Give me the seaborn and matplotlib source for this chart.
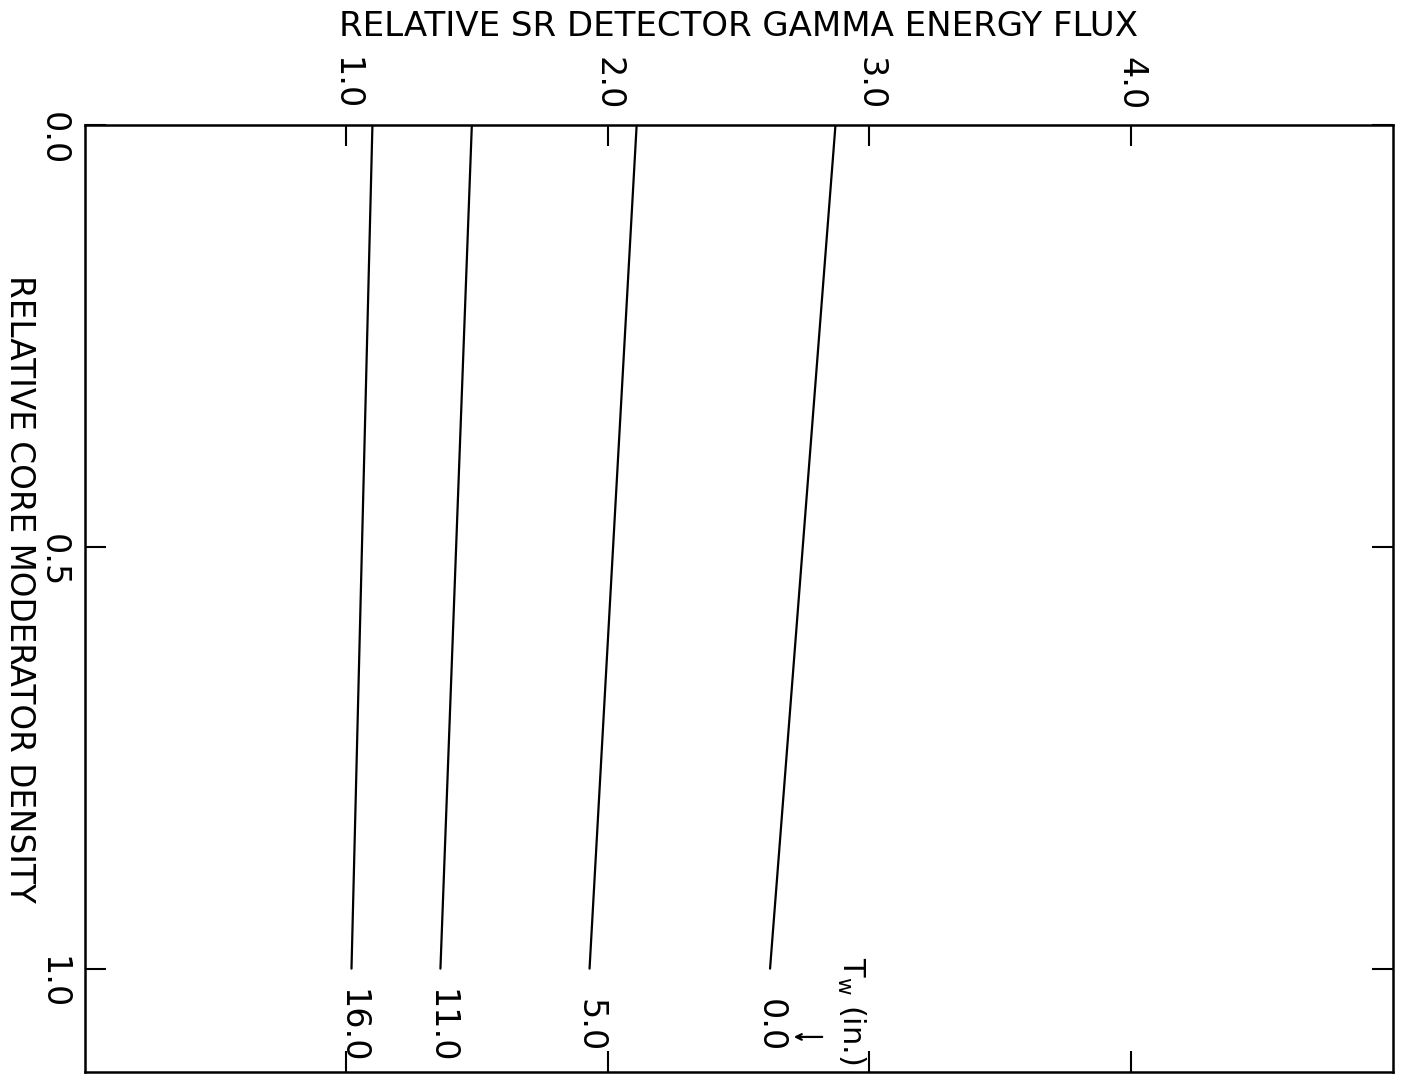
import pandas as pd
import matplotlib
matplotlib.use("Agg")
import matplotlib.pyplot as plt
import seaborn as sns

# curves of flux vs. moderator density, one per water thickness T_w (in.)
thickness_labels = ["0.0", "5.0", "11.0", "16.0"]
density_points = [0.0, 1.0]
flux_at_density_0 = [2.87, 2.11, 1.48, 1.10]
flux_at_density_1 = [2.62, 1.93, 1.36, 1.02]

flux_ticks = [1.0, 2.0, 3.0, 4.0]
density_ticks = [0.0, 0.5, 1.0]

rows = []
for lab, f0, f1 in zip(thickness_labels, flux_at_density_0, flux_at_density_1):
    rows.append({"thickness": lab, "density": density_points[0], "flux": f0})
    rows.append({"thickness": lab, "density": density_points[1], "flux": f1})
df = pd.DataFrame(rows)

sns.set_style("ticks", {"text.color": "black", "axes.labelcolor": "black",
                        "xtick.color": "black", "ytick.color": "black",
                        "axes.edgecolor": "black"})
plt.rcParams['font.family'] = ['DejaVu Sans']

fig = plt.figure(figsize=(14.11, 10.81), dpi=100)
ax = fig.add_axes([0.060, 0.008, 0.927, 0.876])

sns.lineplot(data=df, x="flux", y="density", units="thickness", estimator=None,
             sort=False, color="black", linewidth=1.6, ax=ax, legend=False)

ax.set_xlim(0, 5.0)
ax.set_ylim(1.123, 0.0)

# flux axis on top, ticks on all sides pointing in
ax.xaxis.set_ticks_position("both")
ax.yaxis.set_ticks_position("both")
ax.xaxis.set_label_position("top")
ax.set_xticks(flux_ticks)
ax.set_yticks(density_ticks)
ax.set_xticklabels([f"{v:.1f}" for v in flux_ticks])
ax.set_yticklabels([f"{v:.1f}" for v in density_ticks])
ax.tick_params(axis="x", which="both", direction="in", length=15, width=1.5,
               labeltop=True, labelbottom=False, labelsize=24, pad=11, labelrotation=-90)
ax.tick_params(axis="y", which="both", direction="in", length=15, width=1.5,
               labelleft=True, labelright=False, labelsize=24, pad=11, labelrotation=-90)
for spine in ax.spines.values():
    spine.set_linewidth(1.8)
    spine.set_color("black")

ax.set_xlabel("RELATIVE SR DETECTOR GAMMA ENERGY FLUX", fontsize=24.5)
ax.xaxis.set_label_coords(0.5, 1.094)
ax.set_ylabel("RELATIVE CORE MODERATOR DENSITY", fontsize=23.5, rotation=-90,
              va="center", ha="center")
ax.yaxis.set_label_coords(-0.050, 0.51)

# curve labels below the line ends
for lab, f1 in zip(thickness_labels, flux_at_density_1):
    ax.text(f1, 1.068, lab, rotation=-90, ha="center", va="center", fontsize=24)

ax.text(2.93, 1.05, r"$\mathrm{T}_\mathrm{w}$ (in.)", rotation=-90, ha="center",
        va="center", fontsize=22)
ax.annotate("", xy=(2.70, 1.081), xytext=(2.83, 1.081),
            arrowprops=dict(arrowstyle="->", color="black", lw=1.6))

fig.savefig("out.png", dpi=100)
